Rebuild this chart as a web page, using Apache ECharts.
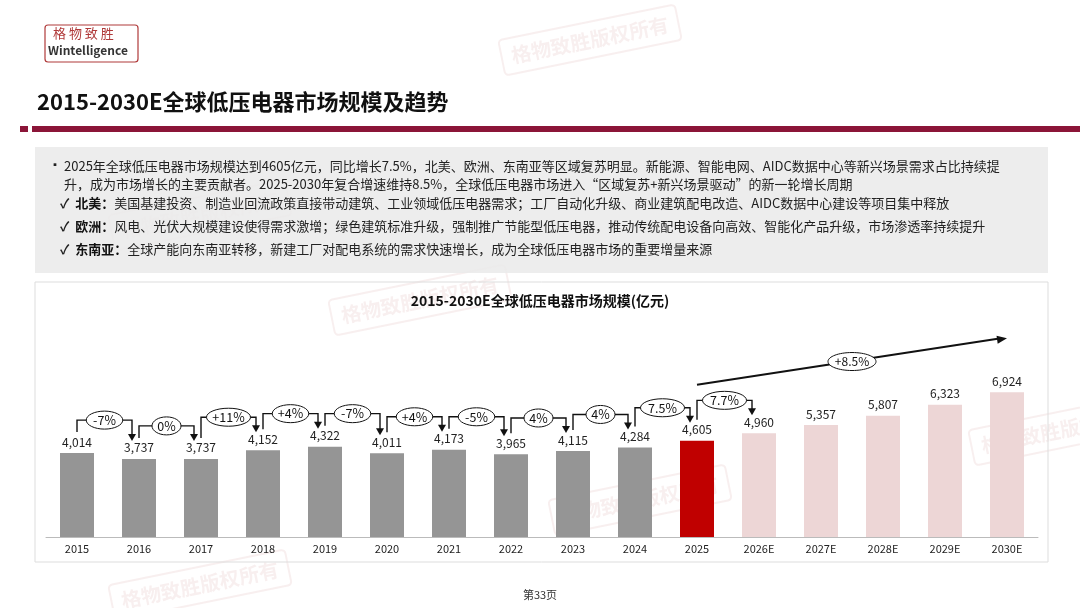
<!DOCTYPE html>
<html><head><meta charset="utf-8">
<script src="https://cdn.jsdelivr.net/npm/echarts@6/dist/echarts.min.js"></script>
<style>html,body{margin:0;padding:0;background:#fff}#main{width:1080px;height:608px}</style>
</head><body><div id="main"></div>
<script>
var years = ['2015','2016','2017','2018','2019','2020','2021','2022','2023','2024','2025','2026E','2027E','2028E','2029E','2030E'];
var values = [4014,3737,3737,4152,4322,4011,4173,3965,4115,4284,4605,4960,5357,5807,6323,6924];
var growth = ['-7%','0%','+11%','+4%','-7%','+4%','-5%','4%','4%','7.5%','7.7%'];
var cagrText = '+8.5%';

var FONT = '"Noto Sans CJK SC","Noto Sans",sans-serif';
var barColor = function(i){
	if(i < 10) return '#959595';
	if(i == 10) return '#C00000';
	return '#EDD6D6';
};

var chart = echarts.init(document.getElementById('main'));

//静态页面元素
var staticGraphic = [];
//水印
var marks = [[590,40],[200,215],[420,300],[640,500],[200,585],[1060,430]];
marks.forEach(function(m){
	staticGraphic.push({type:'group',x:m[0],y:m[1],rotation:0.2,children:[
		{type:'rect',shape:{x:-90,y:-18,width:180,height:36,r:4},style:{fill:'none',stroke:'rgba(200,120,120,0.12)',lineWidth:2}},
		{type:'text',style:{text:'格物致胜版权所有',font:'bold 20px '+FONT,fill:'rgba(200,120,120,0.12)',align:'center',verticalAlign:'middle'}}
	]});
});
staticGraphic = staticGraphic.concat([
	{type:'rect',shape:{x:45,y:25,width:93,height:37,r:3},style:{fill:'#fff',stroke:'#B03A3A',lineWidth:1.2}},
	{type:'text',left:53,top:27,style:{text:'格 物 致 胜',font:'13px '+FONT,fill:'#B03A3A'}},
	{type:'text',left:48,top:44,style:{text:'Wintelligence',font:'bold 12px '+FONT,fill:'#333'}},
	{type:'text',left:37,top:91,style:{text:'2015-2030E全球低压电器市场规模及趋势',font:'bold 22px '+FONT,fill:'#111'}},
	{type:'rect',shape:{x:20,y:126,width:8,height:6},style:{fill:'#8B1538'}},
	{type:'rect',shape:{x:32,y:126,width:1048,height:6},style:{fill:'#8B1538'}},
	{type:'rect',shape:{x:35,y:147,width:1013,height:126},style:{fill:'rgba(235,235,235,0.9)'}},
	{type:'text',left:50,top:160,style:{text:'▪',font:'10px '+FONT,fill:'#222'}},
	{type:'text',left:64,top:160,style:{text:'2025年全球低压电器市场规模达到4605亿元，同比增长7.5%，北美、欧洲、东南亚等区域复苏明显。新能源、智能电网、AIDC数据中心等新兴场景需求占比持续提',font:'13px '+FONT,fill:'#222'}},
	{type:'text',left:64,top:178,style:{text:'升，成为市场增长的主要贡献者。2025-2030年复合增速维持8.5%，全球低压电器市场进入“区域复苏+新兴场景驱动”的新一轮增长周期',font:'13px '+FONT,fill:'#222'}},
	{type:'text',left:60,top:197,style:{text:'{c|✓}  {b|北美：}美国基建投资、制造业回流政策直接带动建筑、工业领域低压电器需求；工厂自动化升级、商业建筑配电改造、AIDC数据中心建设等项目集中释放',font:'13px '+FONT,fill:'#222',rich:{c:{font:'bold 13px '+FONT,fill:'#222'},b:{font:'bold 13px '+FONT,fill:'#111'}}}},
	{type:'text',left:60,top:220,style:{text:'{c|✓}  {b|欧洲：}风电、光伏大规模建设使得需求激增；绿色建筑标准升级，强制推广节能型低压电器，推动传统配电设备向高效、智能化产品升级，市场渗透率持续提升',font:'13px '+FONT,fill:'#222',rich:{c:{font:'bold 13px '+FONT,fill:'#222'},b:{font:'bold 13px '+FONT,fill:'#111'}}}},
	{type:'text',left:60,top:243,style:{text:'{c|✓}  {b|东南亚：}全球产能向东南亚转移，新建工厂对配电系统的需求快速增长，成为全球低压电器市场的重要增量来源',font:'13px '+FONT,fill:'#222',rich:{c:{font:'bold 13px '+FONT,fill:'#222'},b:{font:'bold 13px '+FONT,fill:'#111'}}}},
	{type:'rect',shape:{x:35,y:282,width:1013,height:280},style:{fill:'none',stroke:'#DDDDDD',lineWidth:1}},
	{type:'text',left:'center',top:589,style:{text:'第33页',font:'11px '+FONT,fill:'#333'}}
]);

chart.setOption({
	animation:false,
	title:{text:'2015-2030E全球低压电器市场规模(亿元)',left:'center',top:289,textStyle:{fontFamily:FONT,fontSize:14,fontWeight:'bold',color:'#111'}},
	grid:{left:46,right:42,top:328,bottom:71},
	xAxis:{type:'category',data:years,axisTick:{show:false},
		axisLine:{lineStyle:{color:'#BBBBBB'}},
		axisLabel:{color:'#222',fontSize:11,fontFamily:FONT,margin:6}},
	yAxis:{type:'value',min:0,max:10000,show:false,splitLine:{show:false}},
	series:[{type:'bar',barWidth:34,
		data:values.map(function(v,i){return {value:v,itemStyle:{color:barColor(i)}};}),
		label:{show:true,position:'top',distance:5,color:'#222',fontSize:12,fontFamily:FONT,
			formatter:function(p){return p.value.toLocaleString('en-US');}}}],
	graphic:staticGraphic
});

//增长率括号
var extra = [];
function px(i,v){return chart.convertToPixel({xAxisIndex:0,yAxisIndex:0},[i,v]);}
for(var i=0;i<growth.length;i++){
	var a = px(i,values[i]), b = px(i+1,values[i+1]);
	var topY = Math.min(a[1],b[1]) - 33;
	var x1 = a[0], x2 = b[0]-7;
	extra.push({type:'polyline',shape:{points:[[x1,a[1]-21],[x1,topY],[x2,topY],[x2,b[1]-24]]},style:{stroke:'#111',lineWidth:1.4,fill:null}});
	extra.push({type:'polygon',shape:{points:[[x2-4,b[1]-25],[x2+4,b[1]-25],[x2,b[1]-18]]},style:{fill:'#111'}});
	var w = growth[i].length*7.5+14;
	extra.push({type:'ellipse',shape:{cx:(x1+x2)/2,cy:topY,rx:w/2,ry:9},style:{fill:'#fff',stroke:'#111',lineWidth:1}});
	extra.push({type:'text',x:(x1+x2)/2,y:topY,style:{text:growth[i],font:'12.5px '+FONT,fill:'#111',align:'center',verticalAlign:'middle'}});
}
//复合增速箭头
var s = px(10,values[10]), e = px(15,values[15]);
var sy = s[1]-56, ey = e[1]-54;
extra.push({type:'line',shape:{x1:s[0],y1:sy,x2:e[0]-6,y2:ey},style:{stroke:'#111',lineWidth:2}});
var ang = Math.atan2(ey-sy,e[0]-s[0]);
extra.push({type:'polygon',shape:{points:[[e[0],ey],[e[0]-10*Math.cos(ang)+4*Math.sin(ang),ey-10*Math.sin(ang)-4*Math.cos(ang)],[e[0]-10*Math.cos(ang)-4*Math.sin(ang),ey-10*Math.sin(ang)+4*Math.cos(ang)]]},style:{fill:'#111'}});
var mx=(s[0]+e[0])/2, my=(sy+ey)/2;
extra.push({type:'ellipse',shape:{cx:mx,cy:my,rx:24,ry:9},style:{fill:'#fff',stroke:'#111',lineWidth:1}});
extra.push({type:'text',x:mx,y:my,style:{text:cagrText,font:'12px '+FONT,fill:'#111',align:'center',verticalAlign:'middle'}});

chart.setOption({graphic:staticGraphic.concat(extra)});
</script></body></html>
